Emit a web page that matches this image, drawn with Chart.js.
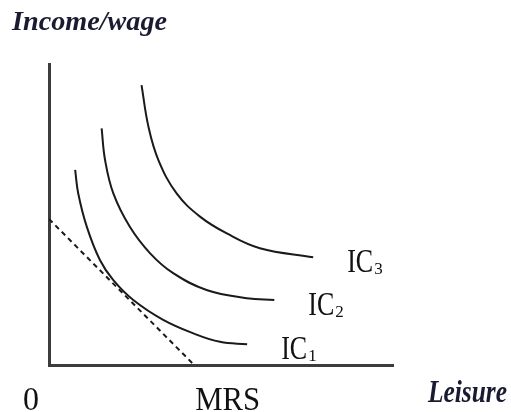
<!DOCTYPE html>
<html>
<head>
<meta charset="utf-8">
<script src="https://cdn.jsdelivr.net/npm/chart.js@4.4.1/dist/chart.umd.min.js"></script>
<style>
  html, body { margin: 0; padding: 0; background: #fff; }
</style>
</head>
<body>
<canvas id="chart" width="511" height="412"></canvas>
<script>
// indifference curves, leisure (x) vs income/wage (y), arbitrary 0-100 units
const ic1X = [7.6, 8.5, 11.0, 14.8, 18.7, 24.5, 33.2, 42.0, 49.7, 57.6];
const ic1Y = [64.8, 57.0, 45.9, 34.9, 28.2, 21.6, 15.0, 10.5, 7.7, 6.9];
const ic2X = [15.3, 16.3, 18.7, 23.5, 29.4, 36.1, 45.8, 57.5, 65.5];
const ic2Y = [78.6, 68.1, 57.0, 45.9, 37.1, 30.5, 24.9, 22.2, 21.6];
const ic3X = [26.9, 28.9, 31.8, 37.1, 43.9, 51.7, 61.3, 76.8];
const ic3Y = [93.0, 79.2, 68.1, 57.0, 49.3, 43.7, 38.8, 35.8];
// budget line (dashed)
const budgetX = [0, 42.2];
const budgetY = [48.5, 0];

const curveNames = ['IC', 'IC', 'IC'];
const curveSubs = ['1', '2', '3'];
const yTitle = 'Income/wage';
const xTitle = 'Leisure';
const originLabel = '0';
const mrsLabel = 'MRS';

function toPoints(xs, ys) {
    return xs.map(function(x, i) { return { x: x, y: ys[i] }; });
}

function curve(xs, ys) {
    return {
        data: toPoints(xs, ys),
        showLine: true,
        borderColor: '#1a1a1a',
        borderWidth: 2,
        pointRadius: 0,
        tension: 0.4,
        fill: false
    };
}

// draw text stretched to a given width, baseline at y
function fitText(ctx, text, left, baseline, font, width) {
    ctx.save();
    ctx.font = font;
    const w = ctx.measureText(text).width;
    ctx.translate(left, baseline);
    ctx.scale(width / w, 1);
    ctx.textAlign = 'left';
    ctx.textBaseline = 'alphabetic';
    ctx.fillText(text, 0, 0);
    ctx.restore();
}

const labelPlugin = {
    id: 'labels',
    afterDraw: function(chart) {
        const ctx = chart.ctx;
        const xs = chart.scales.x;
        ctx.fillStyle = '#111';

        // IC labels next to the end of each curve
        [0, 1, 2].forEach(function(i) {
            const pts = chart.getDatasetMeta(i).data;
            const end = pts[pts.length - 1];
            const lx = end.x + 34;
            const by = end.y + 15;
            fitText(ctx, curveNames[i], lx, by, '33px "Liberation Serif"', 26);
            ctx.font = '17px "Liberation Serif"';
            ctx.textAlign = 'left';
            ctx.fillText(curveSubs[i], lx + 27, by + 2);
        });

        fitText(ctx, originLabel, 23, 410, '33px "Liberation Serif"', 16);
        fitText(ctx, mrsLabel, xs.getPixelForValue(budgetX[1]) + 1, 410, '34px "Liberation Serif"', 65);

        ctx.fillStyle = '#1a1a30';
        fitText(ctx, yTitle, 12, 30, 'italic bold 27px "Liberation Serif"', 155);
        fitText(ctx, xTitle, 428, 402, 'italic bold 32px "Liberation Serif"', 79);
    }
};

new Chart(document.getElementById('chart').getContext('2d'), {
    type: 'scatter',
    data: {
        datasets: [
            curve(ic1X, ic1Y),
            curve(ic2X, ic2Y),
            curve(ic3X, ic3Y),
            {
                data: toPoints(budgetX, budgetY),
                showLine: true,
                borderColor: '#1a1a1a',
                borderWidth: 2,
                borderDash: [5, 4],
                pointRadius: 0
            }
        ]
    },
    options: {
        responsive: false,
        animation: false,
        layout: { padding: { left: 49, top: 64, right: 118, bottom: 47 } },
        plugins: { legend: { display: false }, tooltip: { enabled: false } },
        scales: {
            x: {
                type: 'linear', min: 0, max: 100,
                ticks: { display: false },
                grid: { display: false, drawTicks: false },
                border: { display: true, color: '#3c3c3c', width: 3 }
            },
            y: {
                type: 'linear', min: 0, max: 100,
                ticks: { display: false },
                grid: { display: false, drawTicks: false },
                border: { display: true, color: '#3c3c3c', width: 3 }
            }
        }
    },
    plugins: [labelPlugin]
});
</script>
</body>
</html>
